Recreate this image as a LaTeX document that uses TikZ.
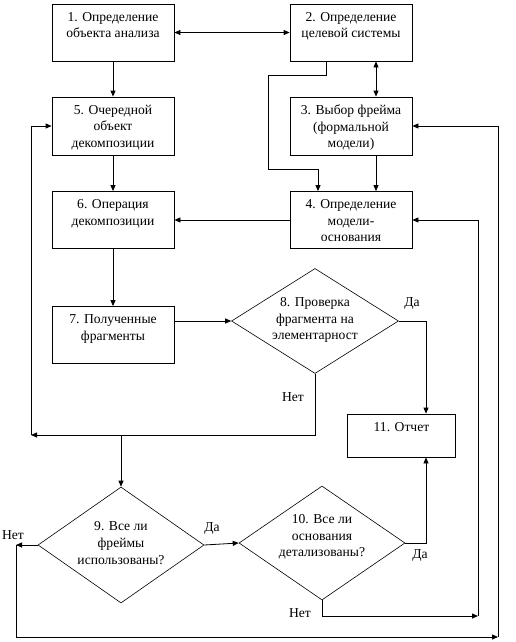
\documentclass[tikz,border=0pt]{standalone}
\usepackage{fontspec}
\setmainfont{Liberation Serif}
\usetikzlibrary{arrows.meta,shapes.geometric}
\begin{document}
\begin{tikzpicture}[x=1pt,y=-1pt,line width=0.8pt,
  box/.style={draw, rectangle, minimum width=122pt, minimum height=57pt, inner sep=0pt},
  dia/.style={draw, diamond, inner sep=0pt, line width=0.6pt},
  txt/.style={align=center, inner sep=0pt, font=\fontsize{13.6}{16.6}\selectfont},
  lbl/.style={inner sep=0pt, font=\fontsize{13.6}{16}\selectfont},
  arr/.style={-{Triangle[length=6pt,width=5pt]}},
  arrb/.style={{Triangle[length=6pt,width=5pt]}-{Triangle[length=6pt,width=5pt]}}
]
\useasboundingbox (0,0) rectangle (516,642);
\fill[white] (0,0) rectangle (516,642);

% boxes
\node[box] (b1) at (113,32.5) {};
\node[box] (b2) at (351,32.5) {};
\node[box, minimum height=58pt] (b5) at (113,126) {};
\node[box, minimum height=58pt] (b3) at (351,126) {};
\node[box] (b6) at (113,220) {};
\node[box] (b4) at (351,220) {};
\node[box] (b7) at (113,335) {};
\node[box, minimum width=108.5pt, minimum height=43pt] (b11) at (401.5,435.5) {};

% diamonds
\node[dia, minimum width=167pt, minimum height=105pt] (d8) at (315,321) {};
\node[dia, minimum width=166pt, minimum height=116pt] (d9) at (121,545) {};
\node[dia, minimum width=166pt, minimum height=114pt] (d10) at (322,543) {};

% texts
\node[txt, anchor=north] (t1) at ([yshift=-8pt]b1.north) {1. Определение\\объекта анализа};
\node[txt, anchor=north] (t2) at ([yshift=-8pt]b2.north) {2. Определение\\целевой системы};
\node[txt, anchor=north] (t5) at ([yshift=-8pt]b5.north) {5. Очередной\\объект\\декомпозиции};
\node[txt, anchor=north] (t3) at ([yshift=-8pt]b3.north) {3. Выбор фрейма\\(формальной\\модели)};
\node[txt, anchor=north] (t6) at ([yshift=-8pt]b6.north) {6. Операция\\декомпозиции};
\node[txt, anchor=north] (t4) at ([yshift=-8pt]b4.north) {4. Определение\\модели-\\основания};
\node[txt, anchor=north] (t7) at ([yshift=-8pt]b7.north) {7. Полученные\\фрагменты};
\node[txt, anchor=north] (t11) at ([yshift=-8pt]b11.north) {11. Отчет};
\node[txt] (t8) at ([yshift=1pt]d8.center) {8. Проверка\\фрагмента на\\элементарност};
\node[txt] (t9) at ([yshift=2pt]d9.center) {9. Все ли\\фреймы\\использованы?};
\node[txt] (t10) at ([yshift=6pt]d10.center) {10. Все ли\\основания\\детализованы?};

% labels
\node[lbl] (l8da) at (412,303) {Да};
\node[lbl] (l8net) at (293,397) {Нет};
\node[lbl] (l9net) at (13,535) {Нет};
\node[lbl] (l9da) at (212,528) {Да};
\node[lbl] (l10da) at (420,555) {Да};
\node[lbl] (l10net) at (300,613) {Нет};

% helper coordinates
\coordinate (cM) at (31,435);
\coordinate (c4) at (478,616);
\coordinate (cL) at (16,637);
\coordinate (cR) at (498,637);

% connectors
\draw[arrb] (b1.east) -- (b2.west);
\draw[arr] (b1.south) -- (b5.north);
\draw[arrb] ([xshift=25pt]b2.south) -- ([xshift=25pt]b3.north);
\draw[arr] ([xshift=-25pt]b2.south) -- ++(0,14) -- ++(-58,0) -- ++(0,94) -- ++(50,0) -- ([xshift=-33pt]b4.north);
\draw[arr] ([xshift=25pt]b3.south) -- ([xshift=25pt]b4.north);
\draw[arr] (b5.south) -- (b6.north);
\draw[arr] (b4.west) -- (b6.east);
\draw[arr] (b6.south) -- (b7.north);
\draw[arr] (b7.east |- d8.west) -- (d8.west);
\draw[arr] (d8.east) -| ([xshift=24.5pt]b11.north);
\draw[arr] (d8.south) |- (cM);
\draw[arr] (cM) |- (b5.west);
\draw[arr] (d9.north |- cM) -- (d9.north);
\draw[arr] (d9.east) -- (d10.west);
\draw[arr] (d10.east) -| ([xshift=24.5pt]b11.south);
\draw[arr] (d10.south) |- (c4);
\draw[arr] (c4) |- (b4.east);
\draw[arr] (d9.west) -- (d9.west -| cL);
\draw[arr] (d9.west -| cL) -- (cL) -- (cR);
\draw[arr] (cR) |- (b3.east);
\end{tikzpicture}
\end{document}
